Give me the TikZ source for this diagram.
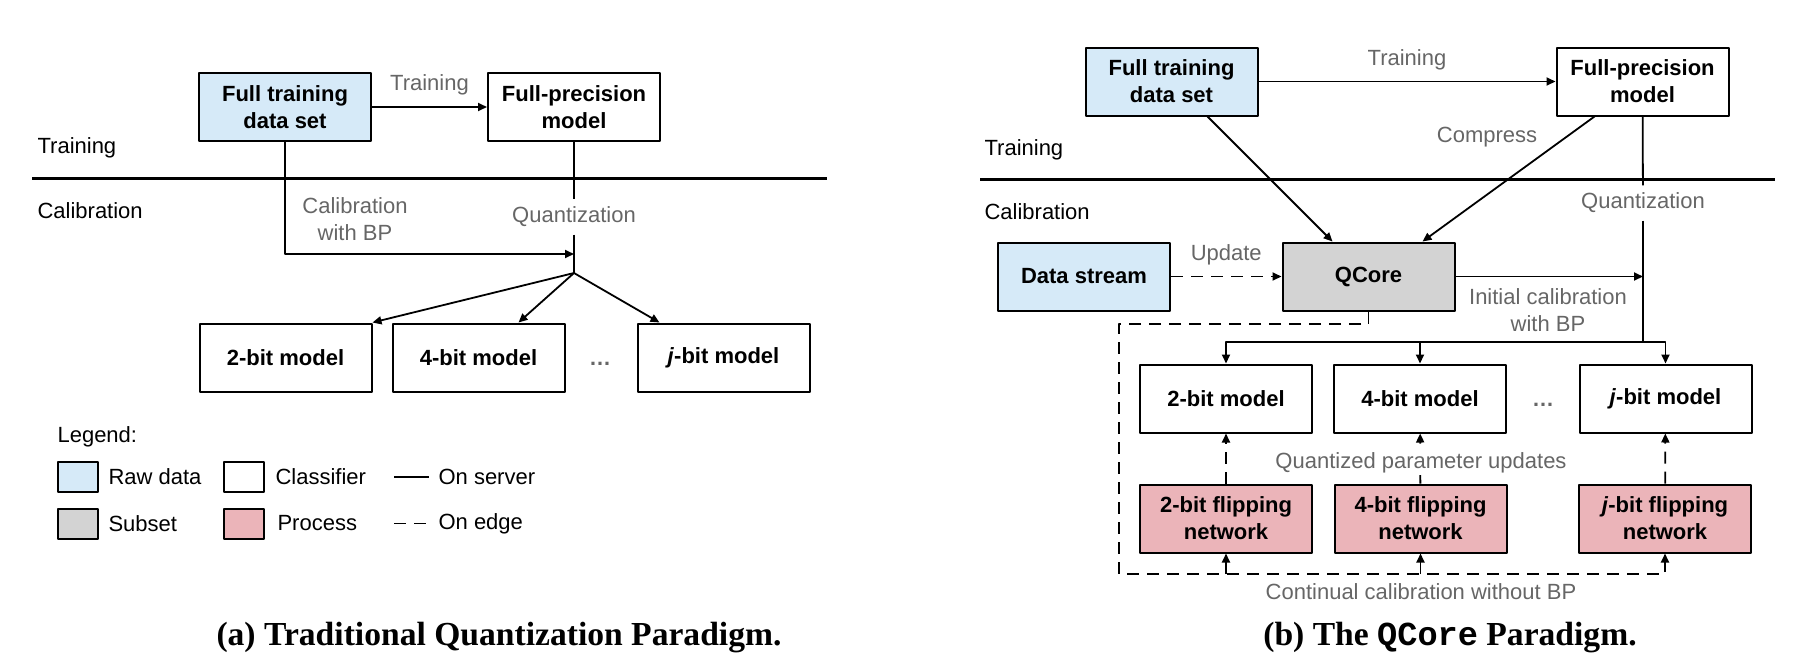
\documentclass[tikz,border=0pt]{standalone}
\usepackage{fontspec}
\setmainfont{Liberation Sans}
\newfontfamily\capfont{Liberation Serif}
\newfontfamily\capmono{Liberation Mono}
\usetikzlibrary{arrows.meta}
\definecolor{rawblue}{RGB}{214,234,248}
\definecolor{subgray}{RGB}{211,211,211}
\definecolor{procpink}{RGB}{235,180,185}
\definecolor{lblgray}{RGB}{102,102,102}
\begin{document}
\begin{tikzpicture}[x=0.5pt,y=-0.5pt,>={Triangle[length=4.5pt,width=4pt]},line join=round,line width=0.9pt,
		font=\fontsize{11}{13.5}\selectfont,
		box/.style={draw,line width=1pt,minimum width=86pt,minimum height=34pt,inner sep=0pt,align=center,font=\fontsize{11}{13.5}\selectfont\bfseries},
		swatch/.style={draw,line width=1pt,minimum width=20pt,minimum height=15pt,inner sep=0pt},
		lbl/.style={text=lblgray,align=center},
		edgeline/.style={dash pattern=on 6pt off 4pt},
		sepline/.style={line width=1.5pt},
		captxt/.style={font=\capfont\fontsize{16.8}{19}\selectfont\bfseries}]
		\useasboundingbox (0,0) rectangle (1796,660);
		
		\node[box,fill=rawblue] (fulla) at (285,107) {Full training\\data set};
		\node[box] (fpa) at (574,107) {Full-precision\\model};
		\draw[->] (fulla) -- (fpa) node[midway,above=2pt,lbl] (traintxa) {Training};
		\node[anchor=west] (traina) at (30,148) {Training};
		\node[anchor=west] (calia) at (30,211) {Calibration};
		\draw[sepline] (32,178) -- (827,178);
		\node[lbl] (qtxa) at (574,217) {Quantization};
		\node[lbl] (cbpa) at (355,219) {Calibration\\with BP};
		\coordinate (cba) at (574,254);
		\coordinate (qa) at (574,273);
		\draw (fpa) -- (qtxa);
		\draw (qtxa) -- (qa);
		\draw[->] (fulla.south) |- (cba);
		\node[box] (m2a) at (285.5,357.5) {2-bit model};
		\node[box] (m4a) at (478.5,357.5) {4-bit model};
		\node[box] (mja) at (723.5,357.5) {\textit{j}-bit model};
		\node[text=lblgray] (dotsa) at (600,364) {\bfseries\dots};
		\draw[->] (qa) -- (m2a.north east);
		\draw[->] (qa) -- ([xshift=20pt]m4a.north);
		\draw[->] (qa) -- ([xshift=-32pt]mja.north);
		
		\node[anchor=west] (legend) at (50,437) {Legend:};
		\node[swatch,fill=rawblue] (swraw) at (77.5,477) {};
		\node[swatch,fill=subgray] (swsub) at (77.5,523.5) {};
		\node[swatch] (swcls) at (244,477) {};
		\node[swatch,fill=procpink] (swproc) at (244,523.5) {};
		\node[anchor=west] (txraw) at (101,477) {Raw data};
		\node[anchor=west] (txsub) at (101,523.5) {Subset};
		\node[anchor=west] (txcls) at (268,477) {Classifier};
		\node[anchor=west] (txproc) at (270,523.5) {Process};
		\coordinate (srv1) at (394,477);
		\coordinate (srv2) at (429,477);
		\coordinate (edg1) at (394,523.5);
		\coordinate (edg2) at (429,523.5);
		\draw (srv1) -- (srv2) node[right=1pt,text=black] (txsrv) {On server};
		\draw[edgeline] (edg1) -- (edg2) node[right=1pt,text=black] (txedg) {On edge};
		
		\node[box,fill=rawblue] (fullb) at (1171.5,81.5) {Full training\\data set};
		\node[box] (fpb) at (1642.5,81.5) {Full-precision\\model};
		\draw[->] (fullb) -- (fpb) node[midway,above=2pt,lbl] (traintxb) {Training};
		\node[anchor=west] (trainb) at (977,150) {Training};
		\node[anchor=west] (calib) at (977,212) {Calibration};
		\draw[sepline] (980,179) -- (1775,179);
		\node[box,fill=rawblue] (datab) at (1084,276.5) {Data stream};
		\node[box,fill=subgray] (qcore) at (1368.5,276.5) {QCore};
		\draw[->,edgeline] (datab) -- (qcore) node[midway,above=2pt,lbl] (updtx) {Update};
		\draw[->] ([xshift=18pt]fullb.south) -- ([xshift=-18pt]qcore.north);
		\draw[->] ([xshift=-24pt]fpb.south) -- ([xshift=27pt]qcore.north);
		\node[lbl] (comptx) at (1487,137) {Compress};
		\node[lbl] (qtxb) at (1643,203) {Quantization};
		\coordinate (qb) at (1643,342);
		\draw (fpb) -- (qtxb);
		\draw (qtxb) -- (qb);
		\draw[->] (qcore) -- (qcore -| qb);
		\node[lbl] (initx) at (1548,310) {Initial calibration\\with BP};
		\node[box] (m2b) at (1226,398.5) {2-bit model};
		\node[box] (m4b) at (1420,398.5) {4-bit model};
		\node[box] (mjb) at (1665.5,398.5) {\textit{j}-bit model};
		\node[text=lblgray] (dotsb) at (1543,405) {\bfseries\dots};
		\draw[->] (qb) -| (m2b);
		\draw[->] (qb) -| (m4b);
		\draw[->] (qb) -| (mjb);
		\node[box,fill=procpink] (f2b) at (1226,518.5) {2-bit flipping\\network};
		\node[box,fill=procpink] (f4b) at (1420.5,518.5) {4-bit flipping\\network};
		\node[box,fill=procpink] (fjb) at (1665,518.5) {\textit{j}-bit flipping\\network};
		\draw[->,edgeline] (f2b) -- (m2b);
		\draw[->,edgeline] (f4b) -- (m4b);
		\draw[->,edgeline] (fjb) -- (mjb);
		\node[lbl,fill=white,inner sep=1pt] (qputx) at (1421,463) {Quantized parameter updates};
		\coordinate (loopl) at (1119,324);
		\coordinate (loopb) at (1119,574);
		\draw[->,edgeline] (qcore.south) |- (loopl) -- (loopb) -| (fjb);
		\draw[->,edgeline] (f2b.south |- loopb) -- (f2b.south);
		\draw[->,edgeline] (f4b.south |- loopb) -- (f4b.south);
		\node[lbl] (cctx) at (1421,592) {Continual calibration without BP};
		
		\node[captxt] (capa) at (499,638) {(a) Traditional Quantization Paradigm.};
		\node[captxt] (capb) at (1450,638) {(b) The {\capmono QCore} Paradigm.};
\end{tikzpicture}
\end{document}
